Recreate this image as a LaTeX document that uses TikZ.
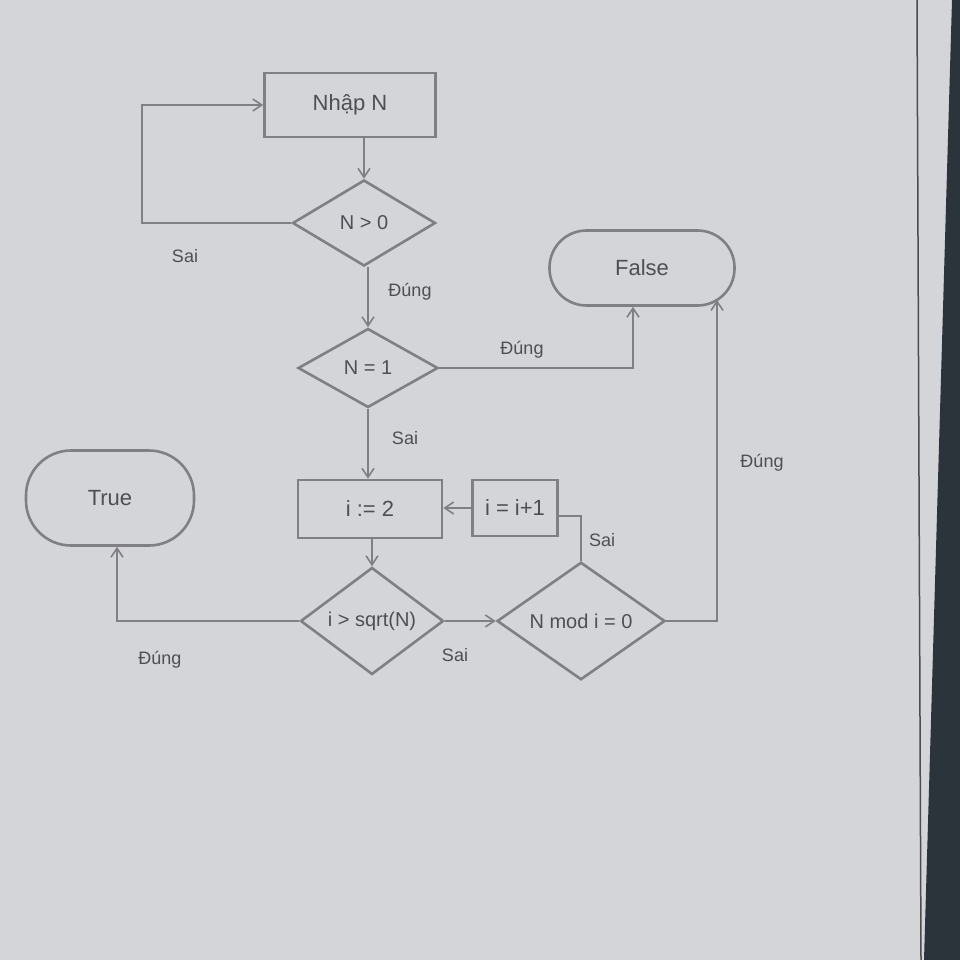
\documentclass[tikz,border=0pt]{standalone}
\usepackage{fontspec}
\setmainfont{Liberation Sans}
\usetikzlibrary{shapes.geometric,arrows.meta}
\definecolor{paper}{RGB}{212,213,216}
\definecolor{ink}{RGB}{128,128,132}
\definecolor{txt}{RGB}{78,78,84}
\definecolor{darkedge}{RGB}{42,52,58}
\tikzset{
  box/.style={draw=ink,line width=2.6pt,rectangle,inner sep=0pt,text=txt,font=\fontsize{22}{24}\selectfont},
  dia/.style={draw=ink,line width=2.6pt,diamond,inner sep=0pt,text=txt,font=\fontsize{20}{22}\selectfont},
  term/.style={draw=ink,line width=2.6pt,rectangle,inner sep=0pt,text=txt,font=\fontsize{22}{24}\selectfont},
  conn/.style={draw=ink,line width=2.2pt},
  arr/.style={conn,-{Straight Barb[length=9pt,width=12pt,line width=1.6pt]}},
  lbl/.style={text=txt,font=\fontsize{18}{20}\selectfont,inner sep=1pt}
}
\begin{document}
\begin{tikzpicture}[x=1pt,y=-1pt]
\useasboundingbox (0,0) rectangle (960,960);
% paper and edges
\fill[paper] (0,0) rectangle (960,960);
\fill[darkedge] (952,0) -- (960,0) -- (960,960) -- (924,960) -- cycle;
\draw[color=black!70,line width=1.5pt] (917,0) -- (921,960);
% nodes
\node[box,minimum width=171pt,minimum height=64pt] (nhap) at (350,105) {Nhập N};
\node[dia,minimum width=143pt,minimum height=86pt] (n0) at (364,223) {N > 0};
\node[dia,minimum width=140pt,minimum height=79pt] (n1) at (368,368) {N = 1};
\node[term,minimum width=185pt,minimum height=75pt,rounded corners=37pt] (false) at (642,268) {False};
\node[box,minimum width=144pt,minimum height=58pt] (init) at (370,509) {i := 2};
\node[box,minimum width=85pt,minimum height=56pt] (inc) at (515,508) {i = i+1};
\node[term,minimum width=168pt,minimum height=95pt,rounded corners=45pt] (true) at (110,498) {True};
\node[dia,minimum width=143pt,minimum height=97pt] (sq) at (372,621) {i > sqrt(N)};
\node[dia,minimum width=168pt,minimum height=92pt] (nmod) at (581,621) {N mod i = 0};
% helper coordinates
\coordinate (loopx) at (142,0);
\coordinate (fin) at (717,300);
\coordinate (hook) at (572,516);
\coordinate (truex) at (117,0);
% connectors
\draw[arr] (n0.north |- nhap.south) -- (n0.north);
\draw[arr] (n0.west) -- (n0.west -| loopx) |- (nhap.west);
\draw[arr] (n1.north |- n0.south) -- (n1.north);
\draw[arr] (n1.east) -| ([xshift=-9pt]false.south);
\draw[arr] (n1.south) -- (n1.south |- init.north);
\draw[arr] (inc.west) -- (inc.west -| init.east);
\draw[conn] (nmod.north) -- (nmod.north |- hook) -- (inc.east |- hook);
\draw[arr] (sq.north |- init.south) -- (sq.north);
\draw[arr] (sq.west) -| (true.south -| truex);
\draw[arr] (sq.east) -- (nmod.west);
\draw[arr] (nmod.east) -| (fin);
% labels
\node[lbl] (l1) at (185,256) {Sai};
\node[lbl] (l2) at (410,292) {Đúng};
\node[lbl] (l3) at (522,350) {Đúng};
\node[lbl] (l4) at (405,438) {Sai};
\node[lbl] (l5) at (602,540) {Sai};
\node[lbl] (l6) at (160,660) {Đúng};
\node[lbl] (l7) at (455,655) {Sai};
\node[lbl] (l8) at (762,463) {Đúng};
\end{tikzpicture}
\end{document}
